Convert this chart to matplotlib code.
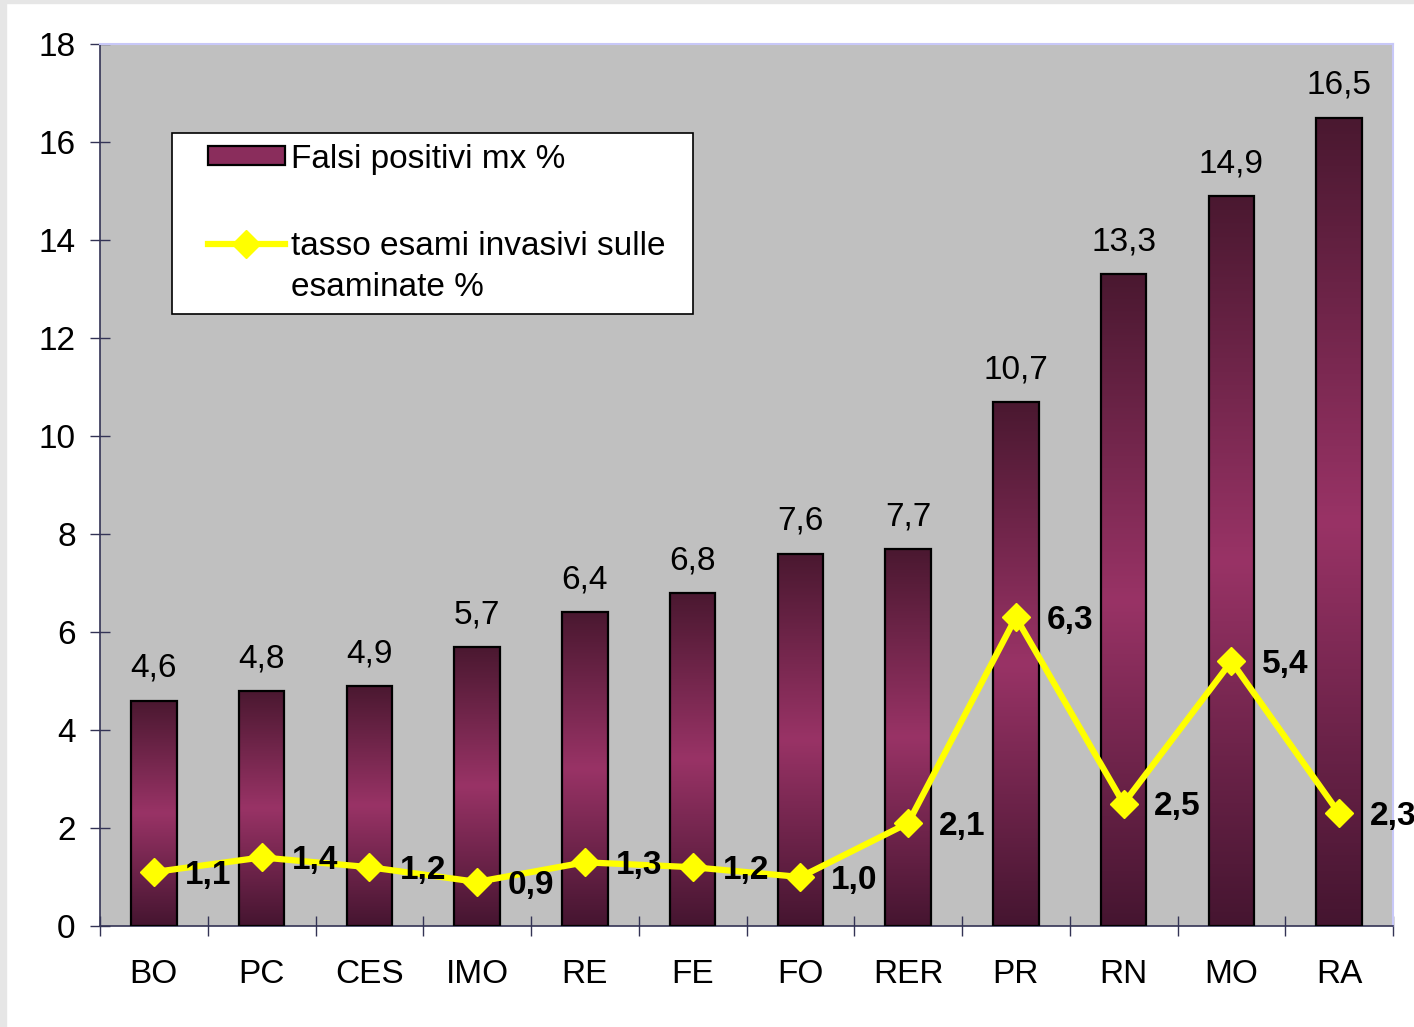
import numpy as np
import matplotlib
matplotlib.use("Agg")
import matplotlib.pyplot as plt
from matplotlib.colors import LinearSegmentedColormap
from matplotlib.patches import Patch, Rectangle
from matplotlib.lines import Line2D

categories = ["BO", "PC", "CES", "IMO", "RE", "FE", "FO", "RER", "PR", "RN", "MO", "RA"]
falsi_positivi = [4.6, 4.8, 4.9, 5.7, 6.4, 6.8, 7.6, 7.7, 10.7, 13.3, 14.9, 16.5]
tasso_invasivi = [1.1, 1.4, 1.2, 0.9, 1.3, 1.2, 1.0, 2.1, 6.3, 2.5, 5.4, 2.3]
y_ticks = [0, 2, 4, 6, 8, 10, 12, 14, 16, 18]
label_bar = "Falsi positivi mx %"
label_line_1 = "tasso esami invasivi sulle"
label_line_2 = "esaminate %"

plt.rcParams['font.family'] = ['Liberation Sans', 'DejaVu Sans']
FS = 24

fig = plt.figure(figsize=(14.14, 10.27), dpi=100)
fig.patch.set_facecolor("white")
# light frame strips of the original slide
fig.add_artist(Rectangle((0, 0), 0.0045, 1, transform=fig.transFigure, color="#E6E6E6", zorder=0))
fig.add_artist(Rectangle((0, 0.997), 1, 0.003, transform=fig.transFigure, color="#E6E6E6", zorder=0))

ax = fig.add_axes([100/1414, 101/1027, 1293/1414, 882/1027])
ax.set_facecolor("#C0C0C0")

x = np.arange(len(categories))
width = 0.42

cmap = LinearSegmentedColormap.from_list("grad", ["#451530", "#993366", "#4A1830"])
grad = np.linspace(0, 1, 256).reshape(-1, 1)

bars = ax.bar(x, falsi_positivi, width=width, facecolor="none", edgecolor="black",
              linewidth=1.6, zorder=3)
for b in bars:
    x0, y0 = b.get_x(), b.get_y()
    w, h = b.get_width(), b.get_height()
    im = ax.imshow(grad, cmap=cmap, aspect="auto", origin="lower",
                   extent=(x0, x0 + w, y0, y0 + h), zorder=2.5, interpolation="bilinear")
    im.set_clip_path(b)

for xi, v in zip(x, falsi_positivi):
    ax.annotate(f"{v:.1f}".replace(".", ","), (xi, v), xytext=(0, 17),
                textcoords="offset points", ha="center", va="baseline",
                fontsize=FS, color="black", zorder=7)

ax.plot(x, tasso_invasivi, color="#FFFF00", linewidth=4.5, marker="D",
        markersize=14, markeredgecolor="#FFFF00", zorder=6, solid_joinstyle="miter")

for xi, v in zip(x, tasso_invasivi):
    ax.annotate(f"{v:.1f}".replace(".", ","), (xi, v), xytext=(22, 0),
                textcoords="offset points", ha="left", va="center_baseline",
                fontsize=FS, fontweight="bold", color="black", zorder=7,
                annotation_clip=False)

ax.set_xlim(-0.5, len(categories) - 0.5)
ax.set_ylim(0, 18)
ax.set_yticks(y_ticks)
ax.set_yticklabels([str(t) for t in y_ticks])
ax.tick_params(axis="y", direction="inout", length=15, width=1, color="#333355",
               labelsize=FS, pad=10)

ax.set_xticks(np.arange(-0.5, len(categories), 1.0))
ax.set_xticklabels([])
ax.set_xticks(x, minor=True)
ax.set_xticklabels(categories, minor=True)
ax.tick_params(axis="x", which="major", direction="inout", length=15, width=1, color="#333355")
ax.tick_params(axis="x", which="minor", length=0, labelsize=FS, pad=24)

for s in ["left", "bottom"]:
    ax.spines[s].set_color("#333355")
    ax.spines[s].set_linewidth(1.2)
for s in ["top", "right"]:
    ax.spines[s].set_color("#C8C8F8")
    ax.spines[s].set_linewidth(1.5)

# legend box
ax.add_patch(Rectangle((0.0557, 0.694), 0.4029, 0.205, transform=ax.transAxes,
                       facecolor="white", edgecolor="black", linewidth=1.2, zorder=8))
handles = [Patch(facecolor="#8A2D5C", edgecolor="black", linewidth=1.6),
           Line2D([0], [0], color="#FFFF00", linewidth=4.5, marker="D",
                  markersize=14, markeredgecolor="#FFFF00")]
leg = ax.legend(handles, [label_bar, label_line_1], loc="upper left",
                bbox_to_anchor=(0.0835, 0.887), frameon=False, fontsize=FS,
                borderpad=0, borderaxespad=0, handlelength=2.3, handleheight=0.5,
                handletextpad=0.2, labelspacing=1.68)
leg.set_zorder(9)
ax.annotate(label_line_2, xy=(0, 0), xycoords=leg.get_texts()[1],
            xytext=(0, -7.5), textcoords="offset points", ha="left", va="top",
            fontsize=FS, color="black", zorder=10)

fig.savefig("out.png", dpi=100, facecolor=fig.get_facecolor())
